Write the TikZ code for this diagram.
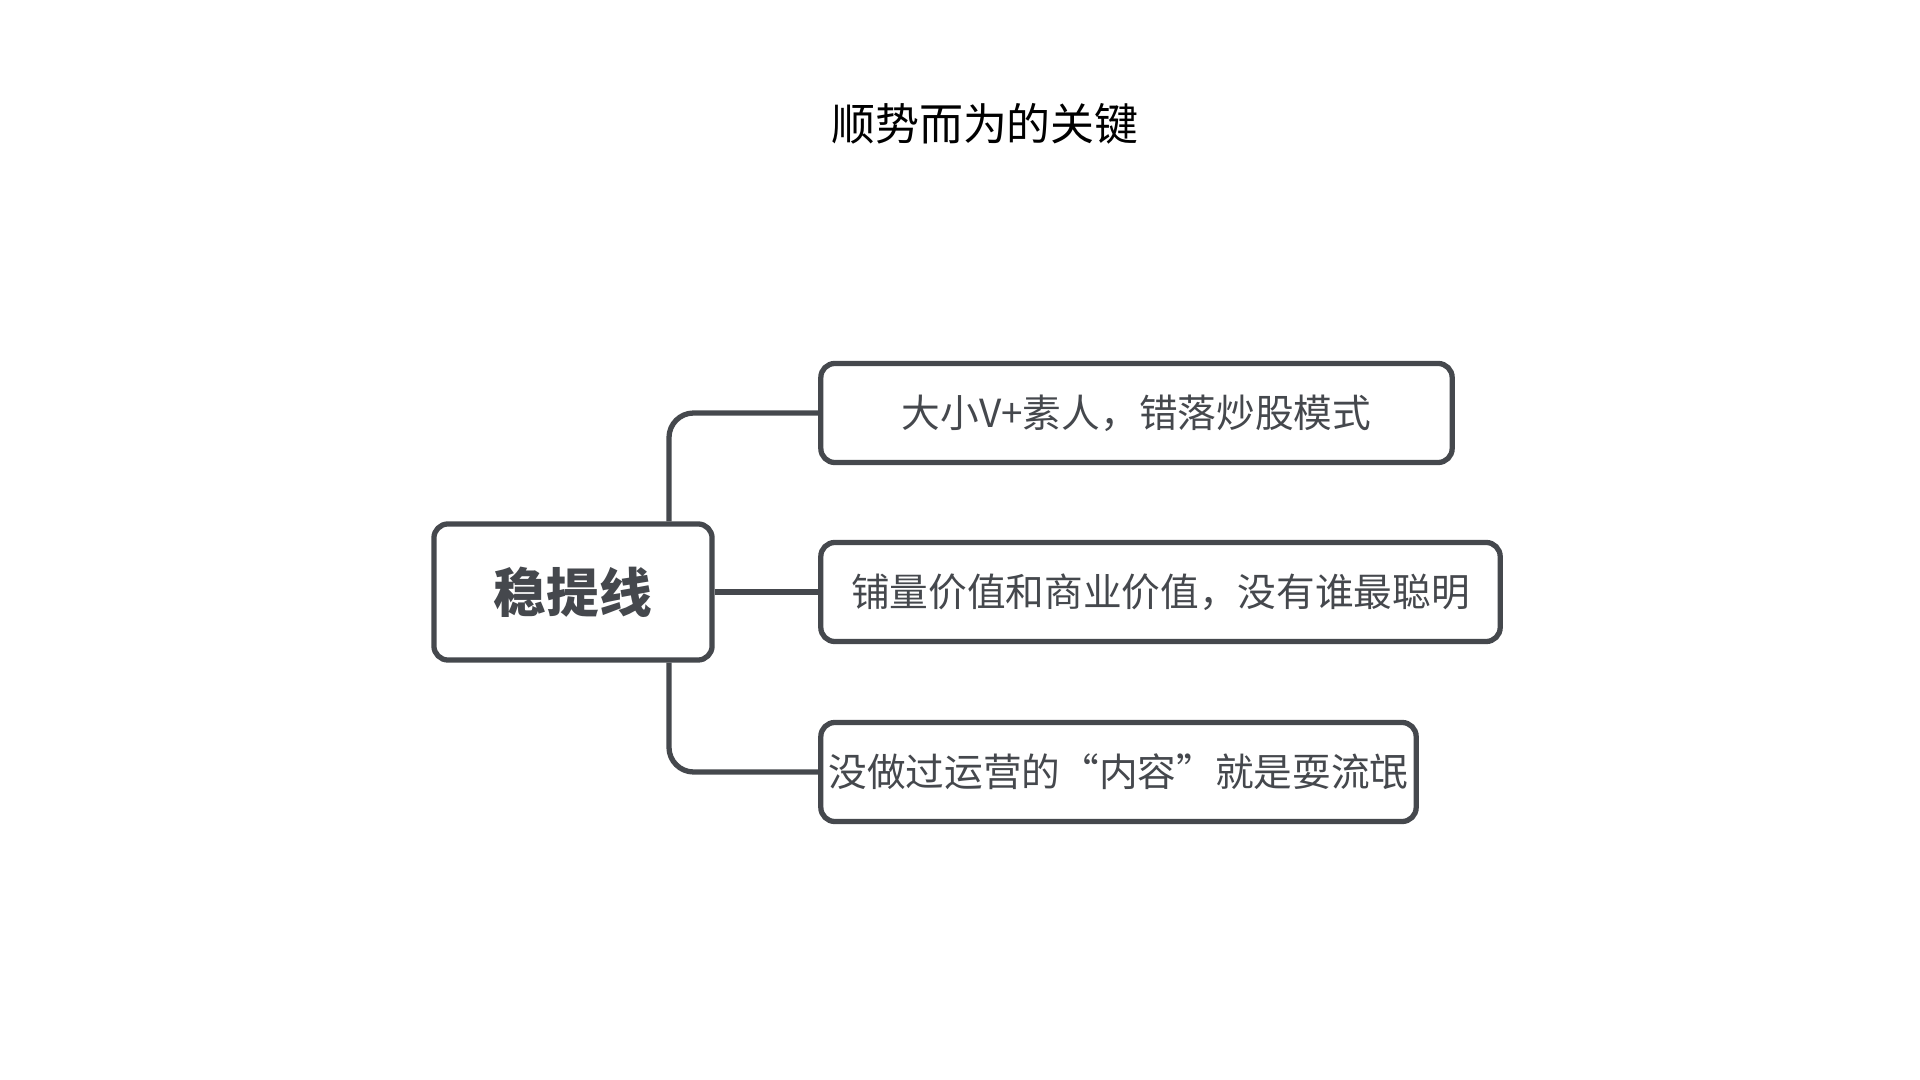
\documentclass[tikz,border=0pt]{standalone}
\usepackage{fontspec}
\setmainfont{Noto Sans CJK SC}
\definecolor{ln}{HTML}{45484D}
\begin{document}
\begin{tikzpicture}[x=0.01cm,y=-0.01cm,
  bx/.style={draw=ln,line width=1.5pt,rounded corners=4pt,fill=white,text=ln,inner sep=0pt},
  cn/.style={draw=ln,line width=1.5pt,rounded corners=7pt}]
\useasboundingbox (0,0) rectangle (1920,1080);
\node[font=\fontsize{12.5pt}{14pt}\selectfont] (t) at (985,124) {顺势而为的关键};
\node[bx,minimum width=278\pgflinewidth/1.5pt*0.01cm,minimum width=2.78cm,minimum height=1.36cm,font=\fontsize{15pt}{17pt}\selectfont\bfseries] (r) at (573,592) {稳提线};
\node[bx,minimum width=6.31cm,minimum height=0.99cm,font=\fontsize{11pt}{13pt}\selectfont] (a) at (1136.5,413) {大小V+素人，错落炒股模式};
\node[bx,minimum width=6.79cm,minimum height=0.99cm,font=\fontsize{11pt}{13pt}\selectfont] (b) at (1160.5,592) {铺量价值和商业价值，没有谁最聪明};
\node[bx,minimum width=5.95cm,minimum height=0.99cm,font=\fontsize{11pt}{13pt}\selectfont] (c) at (1118.5,772) {没做过运营的“内容”就是耍流氓};
\draw[cn] (r.north -| 669,0) -- (669,413) -- (a.west);
\draw[cn] (r.east) -- (b.west);
\draw[cn] (r.south -| 669,0) -- (669,772) -- (c.west);
\end{tikzpicture}
\end{document}
